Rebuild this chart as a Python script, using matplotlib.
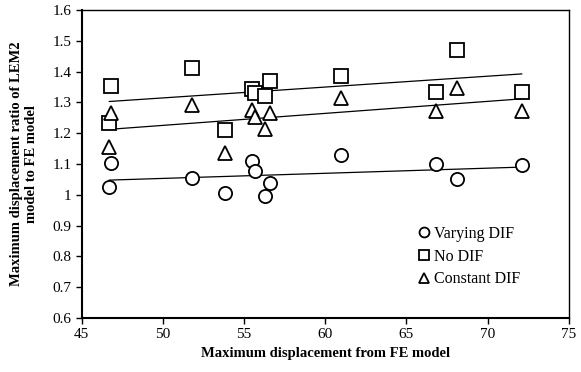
import numpy as np
from matplotlib import pyplot as plt

plt.rcParams['font.family'] = ['Liberation Serif', 'DejaVu Serif']

# displacement from FE model (same x for all three series)
disp = [46.7, 46.8, 51.8, 53.8, 55.5, 55.7, 56.3, 56.6, 61.0, 66.8, 68.1, 72.1]
varying_dif = [1.024, 1.102, 1.056, 1.005, 1.110, 1.079, 0.997, 1.040, 1.131, 1.101, 1.050, 1.097]
no_dif = [1.232, 1.353, 1.413, 1.210, 1.343, 1.330, 1.322, 1.370, 1.386, 1.335, 1.469, 1.335]
constant_dif = [1.156, 1.265, 1.292, 1.137, 1.275, 1.254, 1.213, 1.265, 1.315, 1.272, 1.346, 1.272]

series = [("Varying DIF", varying_dif, "o"),
          ("No DIF", no_dif, "s"),
          ("Constant DIF", constant_dif, "^")]

fig = plt.figure(figsize=(5.81, 3.72), dpi=100)
ax = fig.add_axes([0.1406, 0.145, 0.8384, 0.828])

x = np.array(disp)
for name, ys, m in series:
    ax.plot(x, ys, m, linestyle="none", markersize=9.5, markerfacecolor="white",
            markeredgecolor="black", markeredgewidth=1.3, label=name, zorder=3)
    # linear trend line
    k, b = np.polyfit(x, ys, 1)
    xl = np.array([x.min(), x.max()])
    ax.plot(xl, k * xl + b, color="black", linewidth=0.9, zorder=2)

ax.set_xlim(45, 75)
ax.set_ylim(0.6, 1.6)
ax.set_xticks(np.arange(45, 76, 5))
ax.set_yticks(np.arange(0.6, 1.61, 0.1))
ax.set_yticklabels(["0.6", "0.7", "0.8", "0.9", "1", "1.1", "1.2", "1.3", "1.4", "1.5", "1.6"])
ax.tick_params(direction="out", length=4, width=1, labelsize=11, top=False, right=False)
for s in ax.spines.values():
    s.set_linewidth(1)
ax.spines["left"].set_linewidth(1.5)
ax.spines["bottom"].set_linewidth(1.5)

ax.set_xlabel("Maximum displacement from FE model", fontsize=10.5, fontweight="bold", labelpad=4)
ax.set_ylabel("Maximum displacement ratio of LEM2\nmodel to FE model", fontsize=10.5,
              fontweight="bold", labelpad=10)

ax.legend(loc="upper left", bbox_to_anchor=(0.66, 0.335), frameon=False, fontsize=11.5,
          handletextpad=0.0, handlelength=1.2, markerscale=0.75, labelspacing=0.42,
          borderpad=0.2)

fig.savefig("out.png", dpi=100)
